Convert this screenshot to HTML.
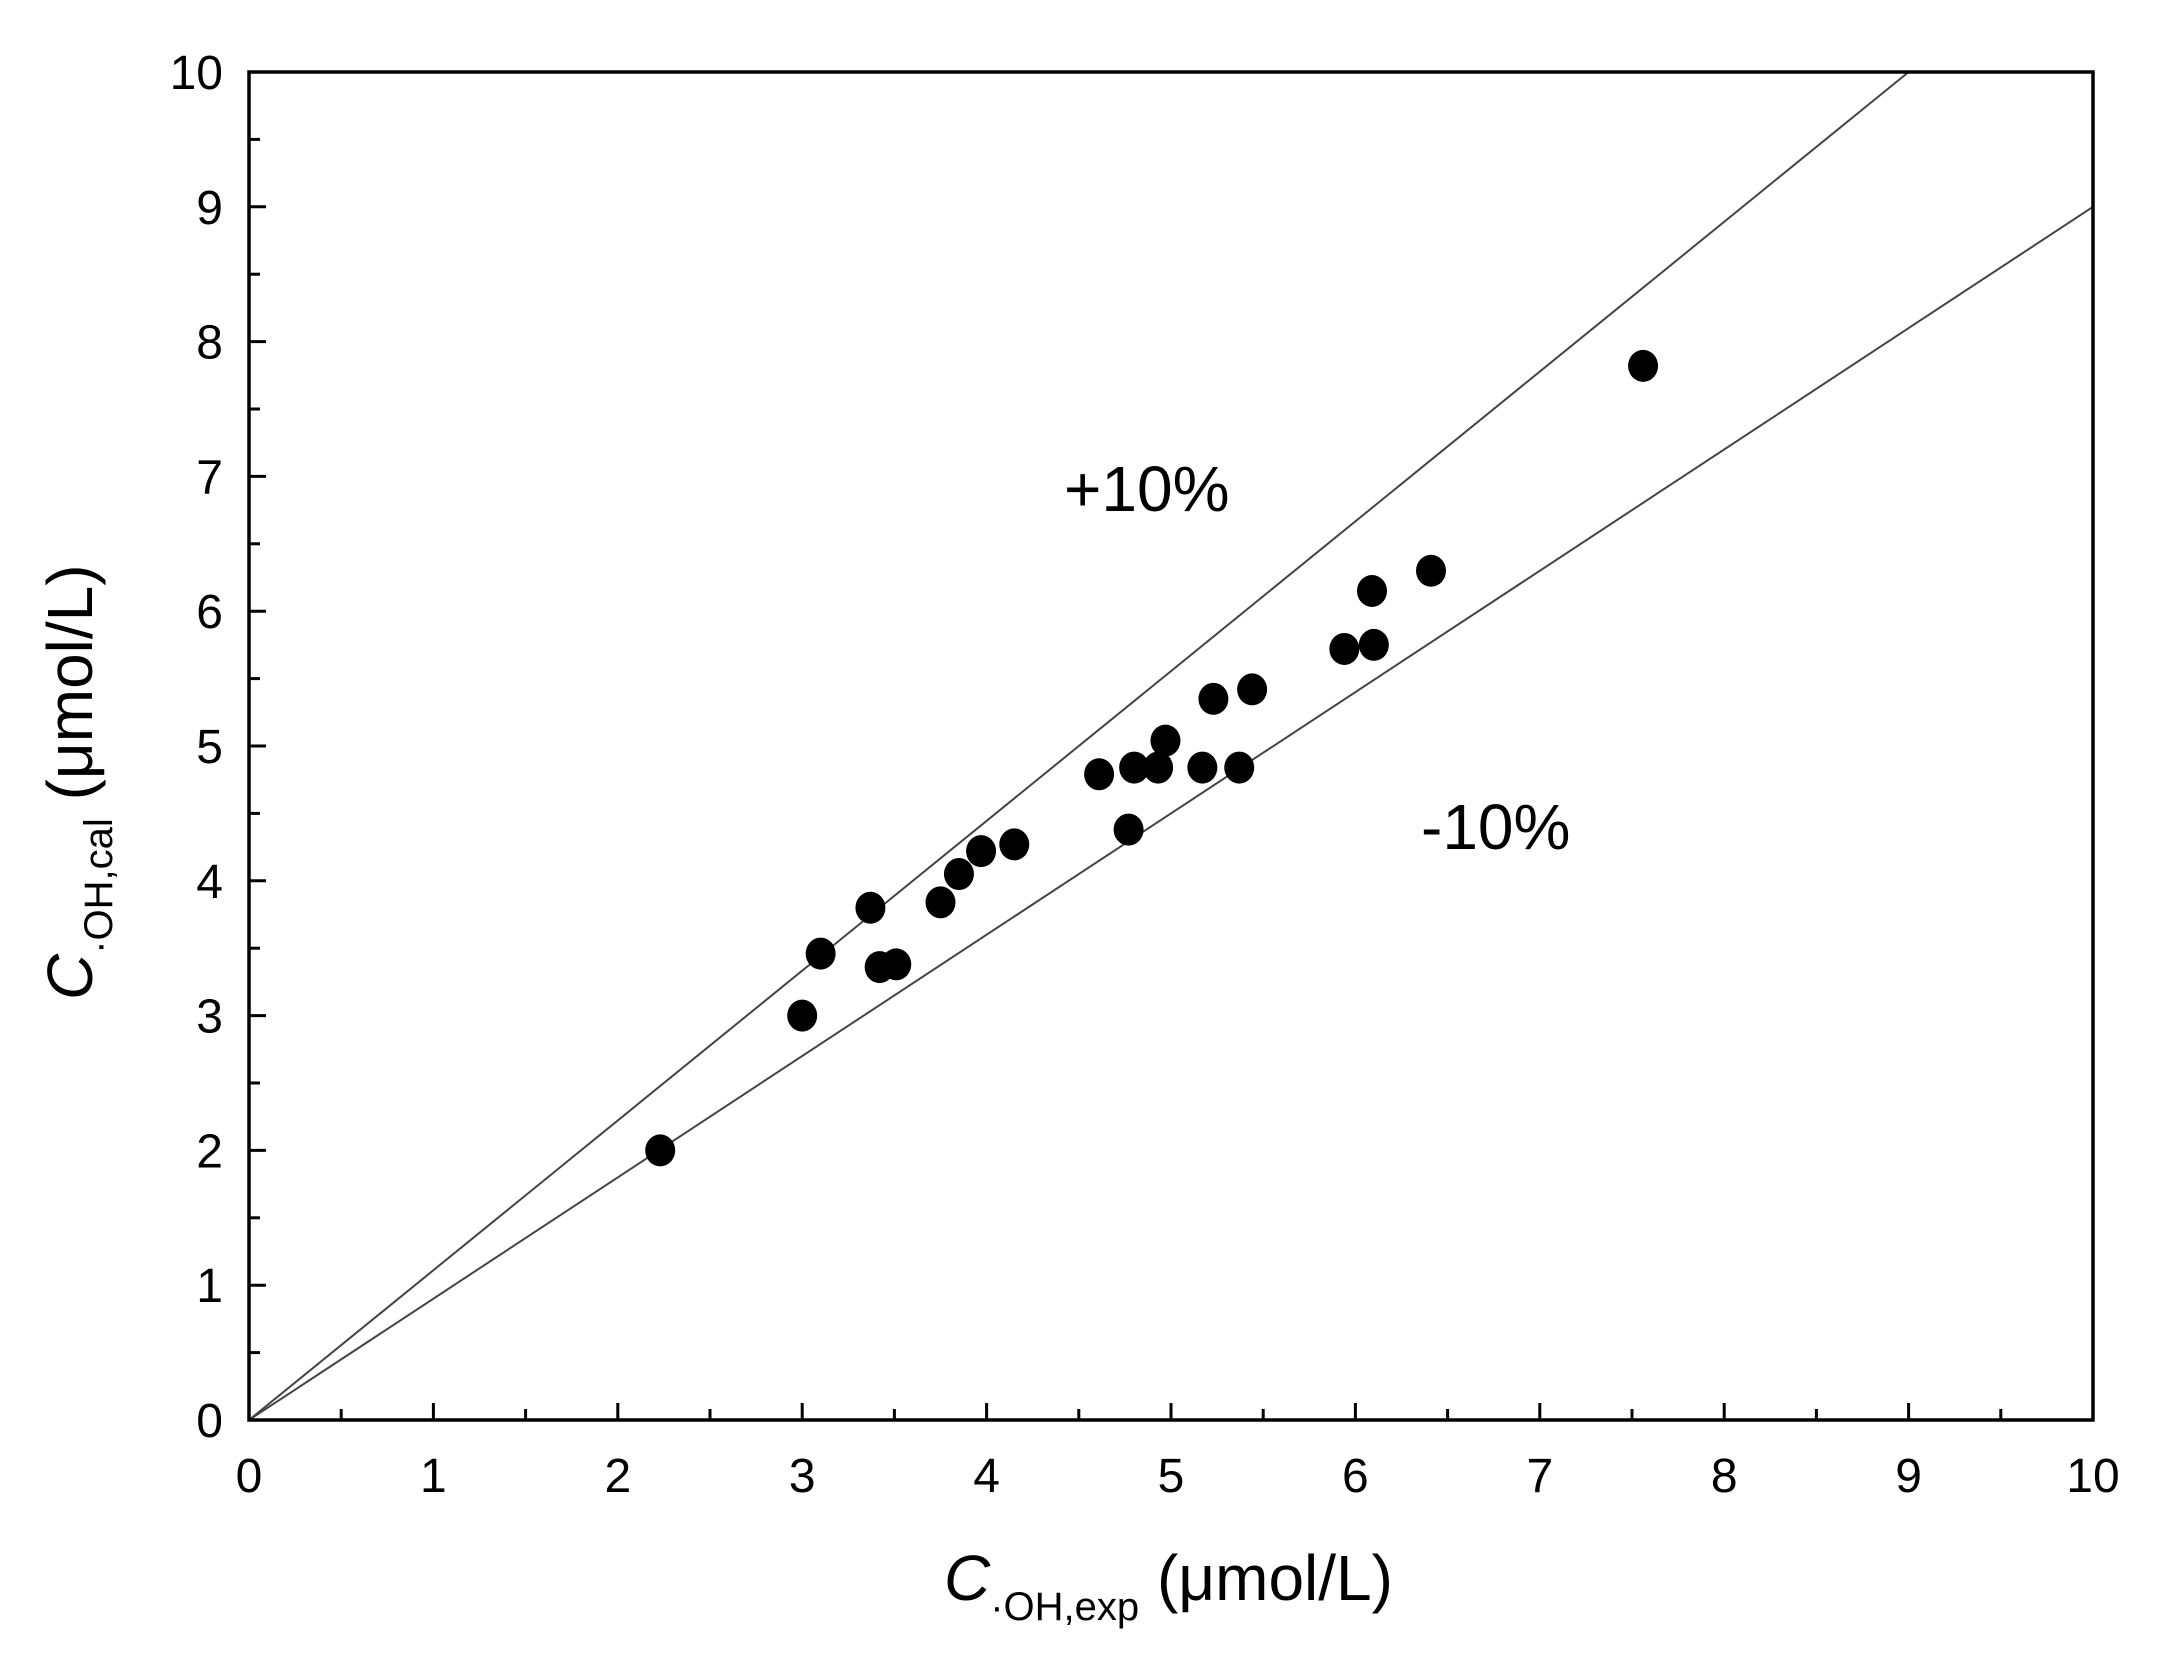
<!DOCTYPE html>
<html><head><meta charset="utf-8"><style>
html,body{margin:0;padding:0;background:#fff;}
svg{display:block;font-family:"Liberation Sans",Arial,sans-serif;}
</style></head><body>
<svg id="chart" width="2169" height="1665" viewBox="0 0 2169 1665" xmlns="http://www.w3.org/2000/svg">
<g id="lines"></g>
<g id="points"></g>
<g id="axes"></g>
<text x="1064" y="511" font-size="64">+10%</text>
<text x="1421" y="849" font-size="64">-10%</text>
<text x="944" y="1600" font-size="64"><tspan font-style="italic">C</tspan><tspan font-size="40" dy="20">·OH,exp</tspan><tspan dy="-20"> (μmol/L)</tspan></text>
<text transform="translate(92,1000) rotate(-90)" font-size="64"><tspan font-style="italic">C</tspan><tspan font-size="40" dy="20">·OH,cal</tspan><tspan dy="-20"> (μmol/L)</tspan></text>
</svg>
<script>
const xs = [2.23,3.0,3.10,3.37,3.42,3.51,3.75,3.85,3.97,4.15,4.61,4.77,4.80,4.93,4.97,5.17,5.23,5.37,5.44,5.94,6.09,6.10,6.41,7.56];
const ys = [2.0,3.0,3.46,3.80,3.36,3.38,3.84,4.05,4.22,4.27,4.79,4.38,4.84,4.84,5.04,4.84,5.35,4.84,5.42,5.72,6.15,5.75,6.30,7.82];
const tickLabels = ["0","1","2","3","4","5","6","7","8","9","10"];
const bandFactors = [1/0.9, 0.9];
const X0=249, X1=2093, Y0=1420, Y1=72;
const sx = v => X0 + (X1-X0)*v/10;
const sy = v => Y0 - (Y0-Y1)*v/10;
const NS="http://www.w3.org/2000/svg";
function mk(tag, attrs, parent){const e=document.createElementNS(NS,tag);for(const k in attrs)e.setAttribute(k,attrs[k]);parent.appendChild(e);return e;}
const lines=document.getElementById('lines'), pts=document.getElementById('points'), axes=document.getElementById('axes');
const clip=mk('clipPath',{id:'pc'},document.getElementById('chart'));
mk('rect',{x:X0,y:Y1,width:X1-X0,height:Y0-Y1},clip);
lines.setAttribute('clip-path','url(#pc)');
bandFactors.forEach((f,i)=>{
  const l=mk('line',{x1:sx(0),y1:sy(0),x2:sx(12),y2:sy(12*f),stroke:'#444','stroke-width':2},lines);
  
  
});
xs.forEach((x,i)=>{
  const c=mk('ellipse',{cx:sx(x),cy:sy(ys[i]),rx:15,ry:16,fill:'#000'},pts);
  
  
});
const frame=mk('rect',{x:X0,y:Y1,width:X1-X0,height:Y0-Y1,fill:'none',stroke:'#000','stroke-width':3.5},axes);


for(let k=0;k<=20;k++){
  const v=k/2, major=k%2===0, len=major?17:11;
  const tx=mk('line',{x1:sx(v),y1:Y0,x2:sx(v),y2:Y0-len,stroke:'#000','stroke-width':3},axes);
  
  
  const ty=mk('line',{x1:X0,y1:sy(v),x2:X0+len,y2:sy(v),stroke:'#000','stroke-width':3},axes);
  
  
}
tickLabels.forEach((t,i)=>{
  const a=mk('text',{x:sx(i),y:Y0+72,'font-size':48,'text-anchor':'middle'},axes);
  a.textContent=t;
  
  
  const b=mk('text',{x:X0-26,y:sy(i)+17,'font-size':48,'text-anchor':'end'},axes);
  b.textContent=t;
  
  
});
</script>
</body></html>
